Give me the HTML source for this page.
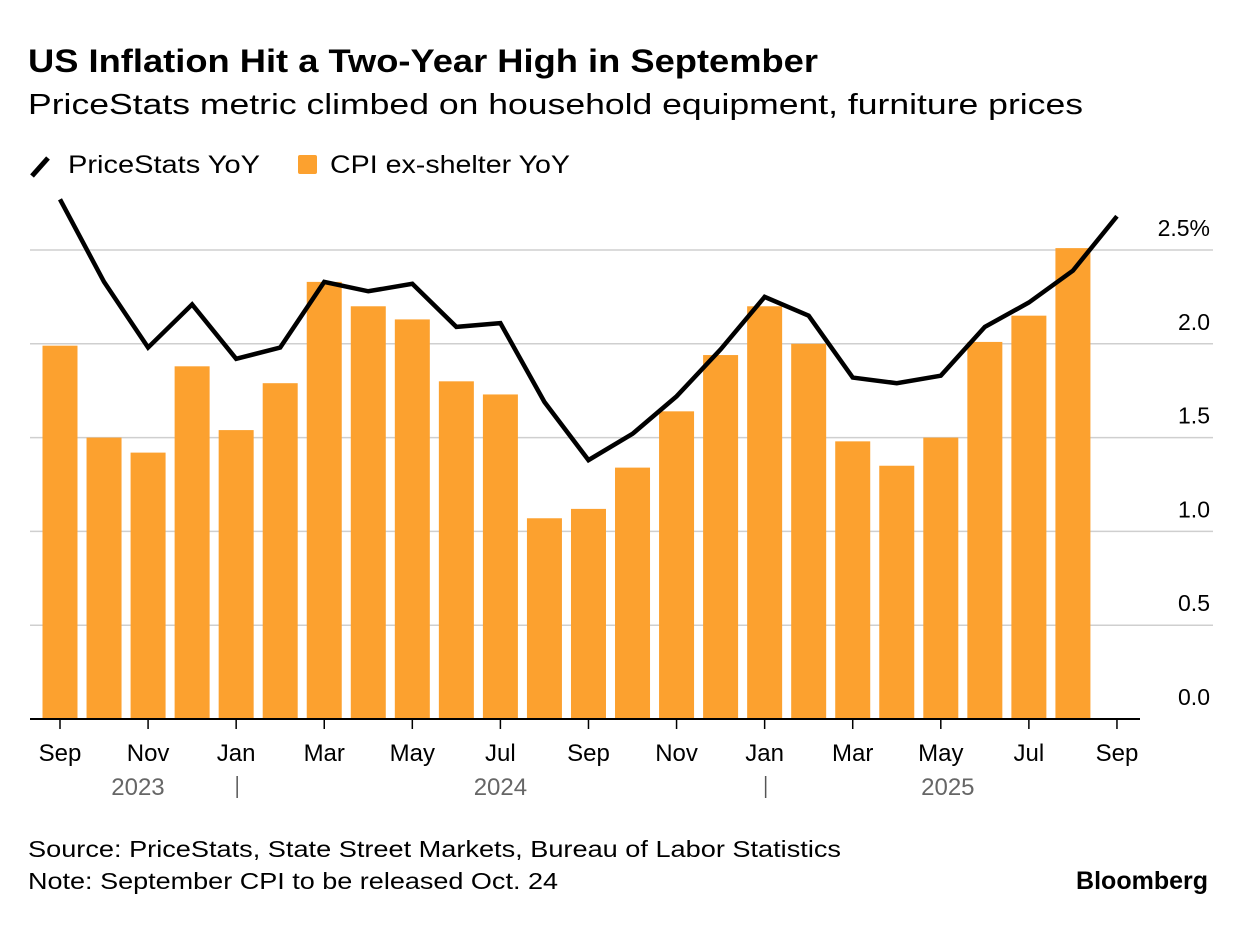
<!DOCTYPE html>
<html><head><meta charset="utf-8"><style>
body{margin:0;background:#fff;font-family:"Liberation Sans",Arial,sans-serif;}
svg text{font-family:"Liberation Sans",Arial,sans-serif;}
</style></head><body>
<svg id="chart" width="1237" height="922" xmlns="http://www.w3.org/2000/svg">
<text x="28" y="72" font-size="32" font-weight="bold" fill="#000" textLength="790" lengthAdjust="spacingAndGlyphs">US Inflation Hit a Two-Year High in September</text>
<text x="28" y="114" font-size="29" fill="#000" textLength="1055" lengthAdjust="spacingAndGlyphs">PriceStats metric climbed on household equipment, furniture prices</text>
<g>
<line x1="32" y1="176" x2="48" y2="158" stroke="#000" stroke-width="5"/>
<text x="68" y="173" font-size="25" textLength="192" lengthAdjust="spacingAndGlyphs">PriceStats YoY</text>
<rect x="298" y="155" width="19" height="19" rx="2" fill="#fca12f"/>
<text x="330" y="173" font-size="25" textLength="240" lengthAdjust="spacingAndGlyphs">CPI ex-shelter YoY</text>
</g>
<g id="grid"></g><g id="bars"></g><g id="line"></g><g id="axis"></g>
<text x="28" y="857" font-size="23" textLength="813" lengthAdjust="spacingAndGlyphs">Source: PriceStats, State Street Markets, Bureau of Labor Statistics</text>
<text x="28" y="889" font-size="23" textLength="530" lengthAdjust="spacingAndGlyphs">Note: September CPI to be released Oct. 24</text>
<text x="1208" y="889" font-size="25" font-weight="bold" text-anchor="end">Bloomberg</text>
</svg>
<script>
const months=["Sep","Oct","Nov","Dec","Jan","Feb","Mar","Apr","May","Jun","Jul","Aug","Sep","Oct","Nov","Dec","Jan","Feb","Mar","Apr","May","Jun","Jul","Aug","Sep"];
const cpiValues=[1.99,1.50,1.42,1.88,1.54,1.79,2.33,2.20,2.13,1.80,1.73,1.07,1.12,1.34,1.64,1.94,2.20,2.00,1.48,1.35,1.50,2.01,2.15,2.51];
const priceStatsValues=[2.77,2.33,1.98,2.21,1.92,1.98,2.33,2.28,2.32,2.09,2.11,1.69,1.38,1.52,1.72,1.97,2.25,2.15,1.82,1.79,1.83,2.09,2.22,2.39,2.68];
const yTicks=[0,0.5,1,1.5,2,2.5];
const yTickLabels=["0.0","0.5","1.0","1.5","2.0","2.5%"];
const years=[{label:"2023",i:1.77},{label:"2024",i:10},{label:"2025",i:20.16}];
const yearDividers=[4,16];
const NS="http://www.w3.org/2000/svg";
const x=i=>60+i*44.04, y=v=>719-v*187.6;
function mk(p,t,a){const e=document.createElementNS(NS,t);for(const k in a)e.setAttribute(k,a[k]);document.getElementById(p).appendChild(e);return e;}
yTicks.forEach((v,i)=>{
 if(v>0){const l=mk("grid","line",{x1:30,x2:1213,y1:y(v),y2:y(v),stroke:"#cfcfcf","stroke-width":1.5});
 
 }
 const t=mk("grid","text",{x:1210,y:y(v)-14,"font-size":23,"text-anchor":"end",fill:"#000"});t.textContent=yTickLabels[i];
 
 
});
cpiValues.forEach((v,i)=>{
 const r=mk("bars","rect",{x:x(i)-17.5,y:y(v),width:35,height:y(0)-y(v),fill:"#fca12f"});
 
 
});
const pl=mk("line","polyline",{points:priceStatsValues.map((v,i)=>x(i)+","+y(v)).join(" "),fill:"none",stroke:"#000","stroke-width":4.5,"stroke-linejoin":"miter"});


const ax=mk("axis","line",{x1:30,x2:1140,y1:719,y2:719,stroke:"#000","stroke-width":2});


months.forEach((m,i)=>{
 if(i%2)return;
 const tk=mk("axis","line",{x1:x(i),x2:x(i),y1:719,y2:729,stroke:"#000","stroke-width":1.5});
 
 
 const t=mk("axis","text",{x:x(i),y:761,"font-size":24,"text-anchor":"middle"});t.textContent=m;
 
 
});
years.forEach(o=>{const t=mk("axis","text",{x:x(o.i),y:795,"font-size":24,"text-anchor":"middle",fill:"#666"});t.textContent=o.label;
 
 });
yearDividers.forEach(i=>{const l=mk("axis","line",{x1:x(i)+1,x2:x(i)+1,y1:776,y2:798,stroke:"#555","stroke-width":1.5});
 
 });
</script>
</body></html>
